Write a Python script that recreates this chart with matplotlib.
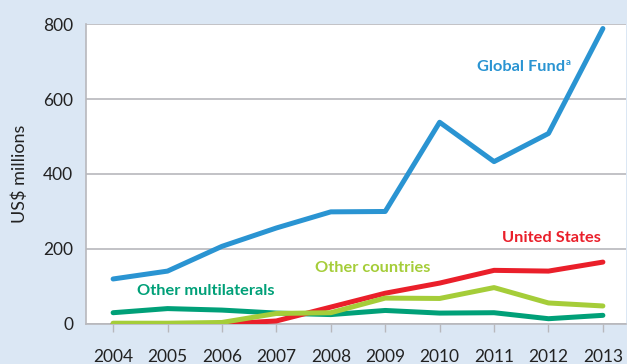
import matplotlib.pyplot as plt

years = [2004, 2005, 2006, 2007, 2008, 2009, 2010, 2011, 2012, 2013]
global_fund = [120, 141, 207, 256, 299, 300, 538, 433, 508, 788]
united_states = [0, 0, 0, 8, 45, 82, 109, 143, 141, 165]
other_countries = [2, 2, 4, 28, 30, 69, 68, 97, 56, 48]
other_multilaterals = [30, 41, 37, 29, 25, 36, 29, 30, 14, 23]

blue = '#2a94d2'
red = '#ea1f2a'
lime = '#a5cd39'
teal = '#00a078'
bg = '#dbe7f4'

plt.rcParams['font.family'] = ['Lato', 'DejaVu Sans']

fig = plt.figure(figsize=(6.27, 3.64), dpi=100, facecolor=bg)
ax = fig.add_axes([0.137, 0.110, 0.861, 0.824])
ax.set_facecolor('white')

lw = 3.6
ax.plot(years, other_multilaterals, color=teal, lw=lw, solid_capstyle='round', zorder=3)
ax.plot(years, united_states, color=red, lw=lw, solid_capstyle='round', zorder=4)
ax.plot(years, other_countries, color=lime, lw=lw, solid_capstyle='round', zorder=5)
ax.plot(years, global_fund, color=blue, lw=lw, solid_capstyle='round', zorder=6)

ax.set_xlim(2003.5, 2013.42)
ax.set_ylim(0, 800)
ax.set_yticks([0, 200, 400, 600, 800])
ax.set_xticks(years)
ax.grid(axis='y', color='#b8b8bc', lw=1.2)
ax.set_axisbelow(True)
for s in ['top', 'right']:
    ax.spines[s].set_visible(False)
for s in ['left', 'bottom']:
    ax.spines[s].set_color('#b8b8bc')
    ax.spines[s].set_linewidth(1.2)
ax.tick_params(axis='y', length=0, pad=9, labelsize=12.5, labelcolor='#222222')
ax.tick_params(axis='x', length=6, width=1, color='#b8b8bc', pad=12,
               labelsize=12.5, labelcolor='#222222')
ax.set_ylabel('US$ millions', fontsize=13, color='#222222', labelpad=11)

lab = dict(fontsize=11.8, fontweight='bold', va='center')
gf = ax.text(2010.69, 685, 'Global Fund', color=blue, ha='left', **lab)
ax.annotate('a', xy=(1, 0.8), xycoords=gf, xytext=(0.5, 0), textcoords='offset points',
            color=blue, ha='left', va='center', fontsize=7, fontweight='bold')
ax.text(2012.05, 229, 'United States', color=red, ha='center', **lab)
ax.text(2008.77, 149, 'Other countries', color=lime, ha='center', **lab)
ax.text(2005.70, 88, 'Other multilaterals', color=teal, ha='center', **lab)

fig.savefig('out.png', dpi=100, facecolor=bg)
